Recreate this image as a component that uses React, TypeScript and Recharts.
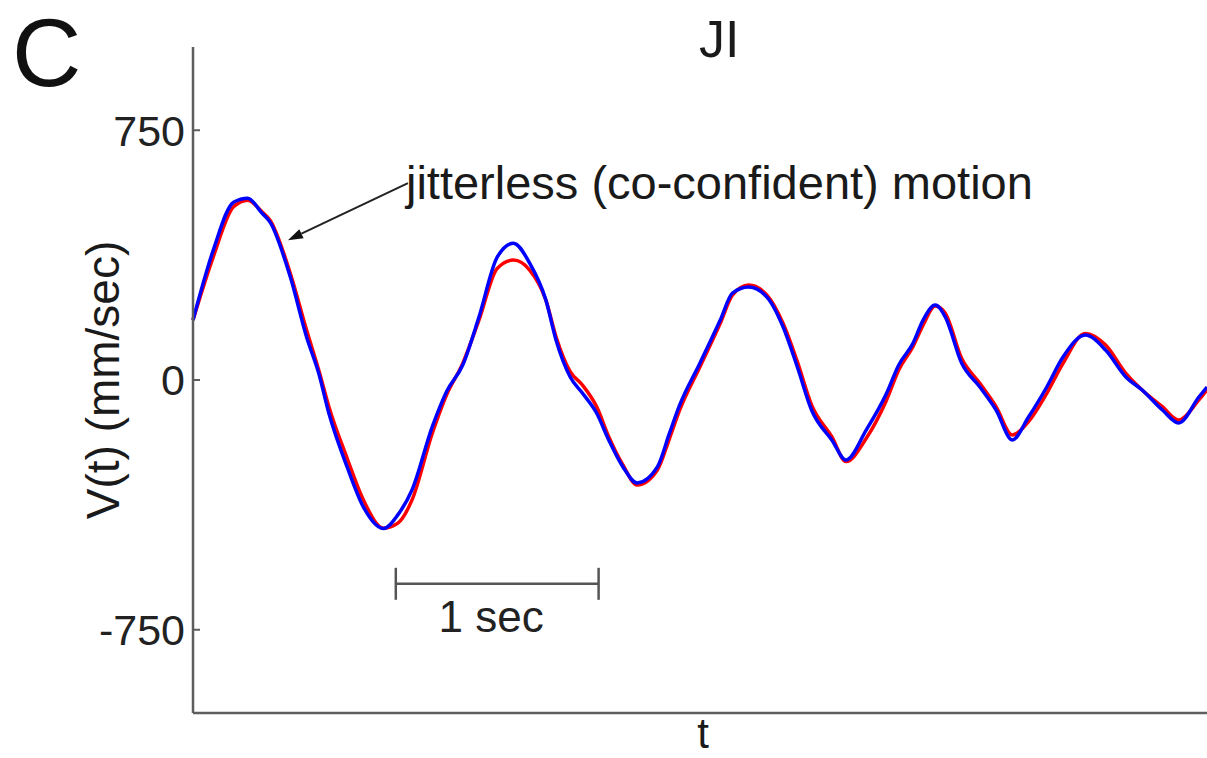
import { LineChart, Line, XAxis, YAxis, ReferenceLine } from 'recharts';

// seconds (1 sec = scale bar width)
const timeSec = [
  0.0, 0.1, 0.2, 0.27, 0.34, 0.38, 0.48, 0.56, 0.62, 0.67, 0.76, 0.84, 0.94, 1.01, 1.08, 1.18, 1.25, 1.33,
  1.41, 1.5, 1.58, 1.66, 1.74, 1.79, 1.86, 1.92, 1.99, 2.05, 2.12, 2.19, 2.29, 2.35, 2.4, 2.5, 2.6, 2.66,
  2.74, 2.83, 2.91, 2.98, 3.05, 3.15, 3.22, 3.32, 3.42, 3.48, 3.55, 3.6, 3.66, 3.71, 3.79, 3.88, 3.96, 4.04,
  4.12, 4.21, 4.29, 4.4, 4.5, 4.6, 4.68, 4.78, 4.86, 4.96, 5.0,
];

// blue trace: jitterless (co-confident) motion, mm/sec
const jitterless = [
  180, 390, 534, 546, 501, 474, 309, 129, 20, -100, -261, -381, -446, -405, -330, -140, -35, 45,
  189, 369, 411, 351, 240, 120, 9, -39, -99, -180, -261, -309, -261, -159, -75, 51, 180, 261,
  279, 249, 159, 39, -90, -180, -240, -150, -40, 45, 110, 180, 225, 189, 51, -21, -90, -180,
  -111, -21, 69, 135, 90, 9, -30, -90, -129, -51, -21,
];

// red trace, mm/sec
const partner = [
  180, 370, 520, 540, 505, 480, 320, 150, 30, -80, -235, -360, -445, -430, -360, -160, -45, 50,
  180, 335, 360, 330, 240, 130, 25, -15, -80, -170, -255, -315, -270, -175, -90, 40, 170, 255,
  285, 255, 170, 55, -75, -170, -245, -175, -60, 30, 100, 165, 222, 200, 65, -10, -80, -165,
  -125, -40, 50, 140, 105, 20, -30, -80, -120, -60, -30,
];

const yTicks = [-750, 0, 750];
const arrowFrom = { x: 1.06, y: 591 };
const arrowTo = { x: 0.468, y: 420 };
const scaleBar = { from: 1.0, to: 2.0, y: -612 };

const FONT = '"Liberation Sans", Arial, Helvetica, sans-serif';
const AXIS = '#5e5e5e';

const rows = timeSec.map((t, i) => ({ t, blue: jitterless[i], red: partner[i] }));

function YTick({ x, y, payload }: any) {
  return (
    <g>
      <text x={x} y={y} dy="0.355em" textAnchor="end" fontSize={43} fontFamily={FONT} fill="#222">
        {payload.value}
      </text>
      <line x1={x + 8} x2={x + 15} y1={y} y2={y} stroke={AXIS} strokeWidth={2} />
    </g>
  );
}

function Arrow({ x1, y1, x2, y2 }: any) {
  const ang = Math.atan2(y2 - y1, x2 - x1);
  const len = 15;
  const w = 5;
  const bx = x2 - len * Math.cos(ang);
  const by = y2 - len * Math.sin(ang);
  const px = -Math.sin(ang) * w;
  const py = Math.cos(ang) * w;
  return (
    <g>
      <line x1={x1} y1={y1} x2={bx} y2={by} stroke="#222" strokeWidth={2} />
      <polygon points={`${x2},${y2} ${bx + px},${by + py} ${bx - px},${by - py}`} fill="#111" />
      <text x={x1 - 2} y={y1 + 16} fontSize={47} fontFamily={FONT} fill="#1a1a1a">
        jitterless (co-confident) motion
      </text>
    </g>
  );
}

function ScaleBar({ x1, y1, x2, y2 }: any) {
  return (
    <g stroke="#555" strokeWidth={2.5}>
      <line x1={x1} y1={y1} x2={x2} y2={y2} />
      <line x1={x1} y1={y1 - 16} x2={x1} y2={y1 + 16} />
      <line x1={x2} y1={y2 - 16} x2={x2} y2={y2 + 16} />
      <text x={(x1 + x2) / 2 - 6} y={y1 + 48} textAnchor="middle" fontSize={44} fontFamily={FONT} fill="#222" stroke="none">
        1 sec
      </text>
    </g>
  );
}

export default function App() {
  return (
    <div style={{ position: 'absolute', left: 0, top: 0, width: 1207, height: 758, background: '#fff' }}>
      <LineChart width={1207} height={758} data={rows} margin={{ top: 47, right: 0, bottom: 0, left: 0 }}>
        <XAxis
          dataKey="t"
          type="number"
          domain={[0, 5]}
          tick={false}
          tickLine={false}
          height={45}
          axisLine={{ stroke: AXIS, strokeWidth: 2.5 }}
        />
        <YAxis
          type="number"
          domain={[-1000, 1000]}
          ticks={yTicks}
          width={193}
          tickSize={0}
          tickMargin={8}
          tickLine={false}
          tick={<YTick />}
          axisLine={{ stroke: AXIS, strokeWidth: 2.5 }}
        />
        <ReferenceLine segment={[{ x: scaleBar.from, y: scaleBar.y }, { x: scaleBar.to, y: scaleBar.y }]} shape={<ScaleBar />} />
        <ReferenceLine segment={[arrowFrom, arrowTo]} shape={<Arrow />} />
        <Line dataKey="red" type="monotone" stroke="#ff0000" strokeWidth={3.5} dot={false} isAnimationActive={false} />
        <Line dataKey="blue" type="monotone" stroke="#0000ff" strokeWidth={3.5} dot={false} isAnimationActive={false} />
      </LineChart>
      <svg width={1207} height={758} style={{ position: 'absolute', left: 0, top: 0, pointerEvents: 'none' }}>
        <text x={12} y={86} fontSize={96} fontFamily={FONT} fill="#111">C</text>
        <text x={699} y={57} fontSize={52} fontFamily={FONT} fill="#1a1a1a">JI</text>
        <text x={119} y={380} transform="rotate(-90 119 380)" textAnchor="middle" fontSize={46} fontFamily={FONT} fill="#1a1a1a">
          V(t) (mm/sec)
        </text>
        <text x={703} y={748} textAnchor="middle" fontSize={42} fontFamily={FONT} fill="#1a1a1a">t</text>
      </svg>
    </div>
  );
}
